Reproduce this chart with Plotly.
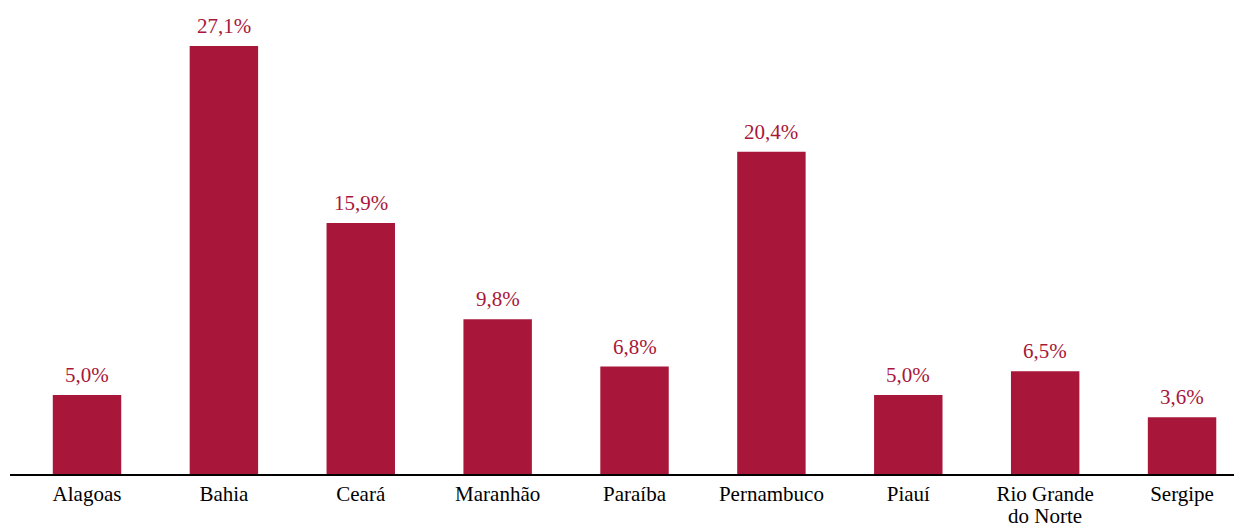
import plotly.graph_objects as go

estados = ["Alagoas", "Bahia", "Ceará", "Maranhão", "Paraíba", "Pernambuco",
           "Piauí", "Rio Grande do Norte", "Sergipe"]
participacao = [5.0, 27.1, 15.9, 9.8, 6.8, 20.4, 5.0, 6.5, 3.6]
rotulos = [f"{v:.1f}%".replace(".", ",") for v in participacao]

# long names are broken in two lines, second line drawn apart (tighter spacing)
primeira_linha = [e.replace(" do Norte", "") for e in estados]
segunda_linha = ["do Norte" if e.endswith("do Norte") else "" for e in estados]

cor = "#A8173A"
fonte = "Liberation Serif, Times New Roman, serif"

fig = go.Figure()
fig.add_trace(go.Bar(
    x=estados,
    y=participacao,
    marker_color=cor,
    marker_line_width=0,
    width=0.5,
))

for e, v, r in zip(estados, participacao, rotulos):
    fig.add_annotation(x=e, y=v, text=r, showarrow=False, yanchor="bottom",
                       yshift=6, font=dict(family=fonte, size=21, color=cor))

for e, s in zip(estados, segunda_linha):
    if s:
        fig.add_annotation(x=e, y=0, text=s, showarrow=False, yanchor="middle",
                           yshift=-42, font=dict(family=fonte, size=21, color="black"))

# page body adds an 8px offset, margins compensate for it
fig.update_layout(
    width=1242,
    height=523,
    margin=dict(l=2, r=8, t=12, b=57, autoexpand=False),
    plot_bgcolor="white",
    paper_bgcolor="white",
    showlegend=False,
    font=dict(family=fonte, size=21, color="black"),
)
fig.update_xaxes(
    range=[-0.5626, 8.438],
    tickmode="array",
    tickvals=estados,
    ticktext=primeira_linha,
    showline=True,
    linecolor="black",
    linewidth=2,
    showgrid=False,
    ticks="",
    automargin=False,
    tickfont=dict(family=fonte, size=21, color="black"),
)
fig.update_yaxes(
    range=[0, 28.75],
    showgrid=False,
    zeroline=False,
    showticklabels=False,
    showline=False,
    automargin=False,
)

fig.write_html("out.html")
